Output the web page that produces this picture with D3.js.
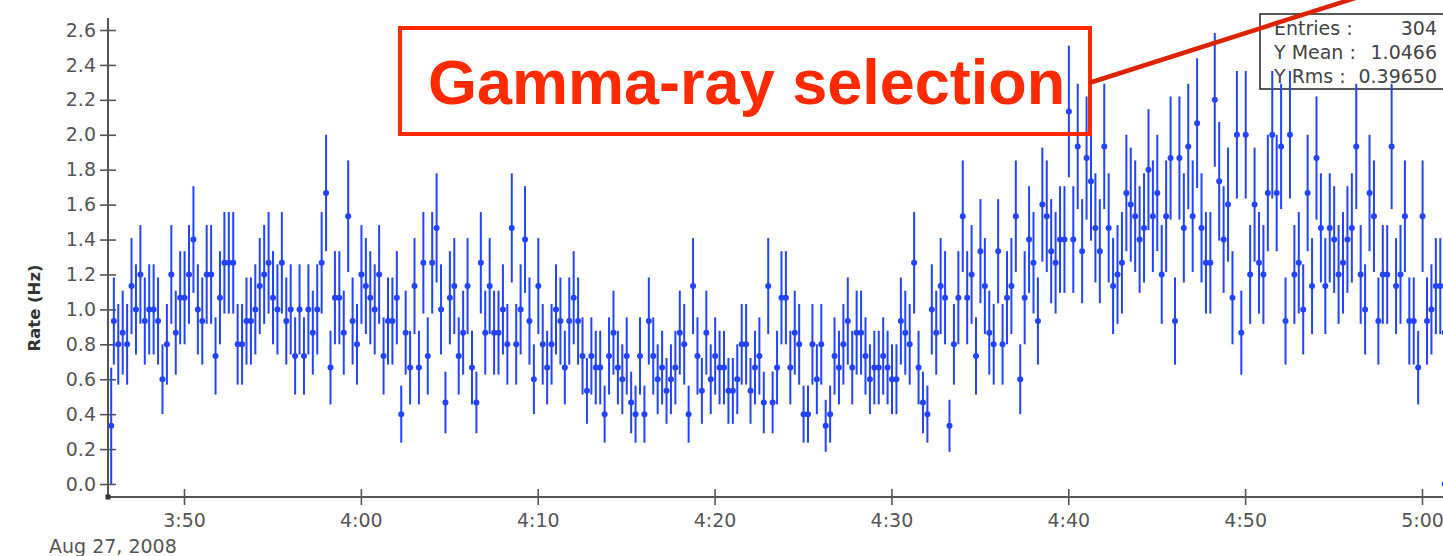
<!DOCTYPE html>
<html>
<head>
<meta charset="utf-8">
<script src="https://cdn.jsdelivr.net/npm/d3@7"></script>
<style>
  body { margin: 0; background: #fff; }
  svg { display: block; }
</style>
</head>
<body>
<svg id="chart" width="1443" height="556"></svg>
<script>
// photon counts in 15 s bins (rate = counts / 15 s)
const binSeconds = 15;
const firstBinCentre = Date.UTC(2008, 7, 27, 3, 46, 2);
const counts = [
  14, 12, 13, 12, 17, 15, 18, 14, 15, 15, 14, 9, 12, 18, 13, 16, 16, 18, 21, 15, 14, 18, 18, 11, 16, 19, 19, 19, 12, 12, 14, 14, 15, 17, 18, 19,
  16, 15, 19, 14, 15, 11, 15, 11, 15, 13, 15, 19, 25, 10, 16, 16, 13, 23, 14, 12, 18, 17, 16, 15, 18, 11, 14, 14, 16, 6, 13, 10, 17, 10, 19, 11, 19, 22, 15, 7,
  16, 17, 11, 13, 17, 10, 7, 19, 13, 17, 13, 13, 15, 12, 22, 12, 15, 21, 14, 9, 17, 12, 10, 12, 15, 14, 10, 14, 16, 14, 11, 8, 11, 10, 10, 6, 11, 13, 10,
  9, 11, 7, 6, 11, 6, 14, 11, 9, 10, 8, 9, 10, 13, 12, 6, 17, 11, 8, 13, 9, 11, 10, 10, 8, 8, 9, 12, 12, 8, 10, 11, 7, 17, 7, 10, 16, 16,
  10, 13, 12, 6, 6, 12, 9, 12, 5, 6, 11, 10, 12, 14, 10, 13, 13, 11, 9, 10, 10, 11, 10, 9, 9, 14, 13, 12, 19, 10, 7, 6, 15, 13, 17, 16, 5, 12,
  16, 23, 16, 18, 11, 20, 17, 13, 12, 20, 12, 16, 17, 23, 9, 16, 21, 19, 14, 24, 23, 20, 19, 21, 21, 32, 21, 29, 20, 28, 26, 22, 20, 29, 22, 17, 18,
  19, 25, 24, 23, 21, 22, 27, 23, 25, 18, 23, 28, 14, 28, 22, 29, 23, 31, 22, 19, 19, 33, 26, 21, 24, 16, 30, 13, 30, 18, 24, 19, 18, 25,
  30, 25, 29, 14, 30, 18, 19, 15, 25, 17, 28, 22, 17, 22, 21, 18, 19, 21, 22, 29, 18, 15, 25, 23, 14, 18, 18, 29, 17, 18, 23, 14, 14, 10, 23, 14, 15, 17, 17, 13
];
// the short bins at both ends of the run
const partialBins = [
  { time: Date.UTC(2008, 7, 27, 3, 45, 53), rate: 0.3333, err: 0.3333 },
  { time: Date.UTC(2008, 7, 27, 5, 1, 17), rate: 0, err: 0 }
];
const yTicks = [0, 0.2, 0.4, 0.6, 0.8, 1.0, 1.2, 1.4, 1.6, 1.8, 2.0, 2.2, 2.4, 2.6];
const xTicks = [[3, 50], [4, 0], [4, 10], [4, 20], [4, 30], [4, 40], [4, 50], [5, 0]].map(
  ([h, m]) => new Date(Date.UTC(2008, 7, 27, h, m))
);
const dateLabel = "Aug 27, 2008";
const stats = [["Entries :", "304"], ["Y Mean :", "1.0466"], ["Y Rms :", "0.39650"]];
const annotation = "Gamma-ray selection";

const points = counts.map((n, i) => ({
  time: new Date(firstBinCentre + i * binSeconds * 1000),
  rate: n / binSeconds,
  err: Math.sqrt(n) / binSeconds
}));
partialBins.forEach((d) => points.push({ time: new Date(d.time), rate: d.rate, err: d.err }));

const svg = d3.select("#chart");
const axisColor = "#555";
const blue = "#2244ff";
const red = "#ff2a00";

const x = d3.scaleUtc().domain([xTicks[0], xTicks[xTicks.length - 1]]).range([184, 1422]);
const y = d3.scaleLinear().domain([0, 2.6]).range([484, 30]);
const x0 = 108, yAxisY = 497;

// stats box (drawn below the data)
const box = svg.append("g");
box.append("rect")
  .attr("x", 1260).attr("y", 14).attr("width", 200).attr("height", 75)
  .attr("fill", "none").attr("stroke", "#222").attr("stroke-width", 1.5);
stats.forEach(([k, v], i) => {
  box.append("text").attr("x", 1274).attr("y", 35 + i * 24)
    .attr("font-family", "DejaVu Sans").attr("font-size", 19).attr("fill", "#444").text(k);
  box.append("text").attr("x", 1437).attr("y", 35 + i * 24).attr("text-anchor", "end")
    .attr("font-family", "DejaVu Sans").attr("font-size", 19).attr("fill", "#444").text(v);
});

// axes
const yAxis = svg.append("g")
  .attr("transform", `translate(${x0},0)`)
  .call(d3.axisLeft(y).tickValues(yTicks).tickFormat(d3.format(".1f")).tickSize(8).tickPadding(4));
const xAxis = svg.append("g")
  .attr("transform", `translate(0,${yAxisY})`)
  .call(d3.axisBottom(x).tickValues(xTicks).tickFormat(d3.utcFormat("%-H:%M")).tickSize(8).tickPadding(9));

[yAxis, xAxis].forEach((g) => {
  g.select(".domain").remove();
  g.selectAll(".tick line").attr("stroke", axisColor).attr("stroke-width", 1.6);
  g.selectAll(".tick text")
    .attr("fill", axisColor)
    .attr("font-family", "DejaVu Sans")
    .attr("font-size", 19);
});
yAxis.selectAll(".tick line").attr("x1", 8);
xAxis.selectAll(".tick line").attr("y1", -8);

svg.append("line")
  .attr("x1", x0).attr("x2", x0).attr("y1", 18).attr("y2", yAxisY)
  .attr("stroke", axisColor).attr("stroke-width", 2);
svg.append("line")
  .attr("x1", x0).attr("x2", 1443).attr("y1", yAxisY).attr("y2", yAxisY)
  .attr("stroke", axisColor).attr("stroke-width", 2);
svg.append("rect")
  .attr("x", x0 - 2.5).attr("y", yAxisY - 2.5).attr("width", 5).attr("height", 5)
  .attr("fill", "#333");

svg.append("text")
  .attr("x", 49).attr("y", 553)
  .attr("font-family", "DejaVu Sans").attr("font-size", 19).attr("fill", axisColor)
  .text(dateLabel);

svg.append("text")
  .attr("transform", `translate(40,308) rotate(-90)`)
  .attr("text-anchor", "middle")
  .attr("font-family", "DejaVu Sans").attr("font-weight", "bold").attr("font-size", 16.5)
  .attr("fill", "#333")
  .text("Rate (Hz)");

// data with error bars
const dots = svg.append("g");
dots.selectAll("line")
  .data(points)
  .join("line")
  .attr("x1", (d) => x(d.time)).attr("x2", (d) => x(d.time))
  .attr("y1", (d) => y(Math.max(0, d.rate - d.err)))
  .attr("y2", (d) => y(d.rate + d.err))
  .attr("stroke", blue).attr("stroke-width", 2);
dots.selectAll("circle")
  .data(points)
  .join("circle")
  .attr("cx", (d) => x(d.time))
  .attr("cy", (d) => y(d.rate))
  .attr("r", 3)
  .attr("fill", blue);

// red annotation
svg.append("rect")
  .attr("x", 400).attr("y", 28).attr("width", 690).attr("height", 106)
  .attr("fill", "none").attr("stroke", red).attr("stroke-width", 4);
svg.append("text")
  .attr("x", 428).attr("y", 104)
  .attr("font-family", "Liberation Sans").attr("font-weight", "bold").attr("font-size", 63)
  .attr("fill", red)
  .text(annotation);
svg.append("line")
  .attr("x1", 1089).attr("y1", 83).attr("x2", 1443).attr("y2", -30)
  .attr("stroke", "#dd2200").attr("stroke-width", 4.5);
</script>
</body>
</html>
